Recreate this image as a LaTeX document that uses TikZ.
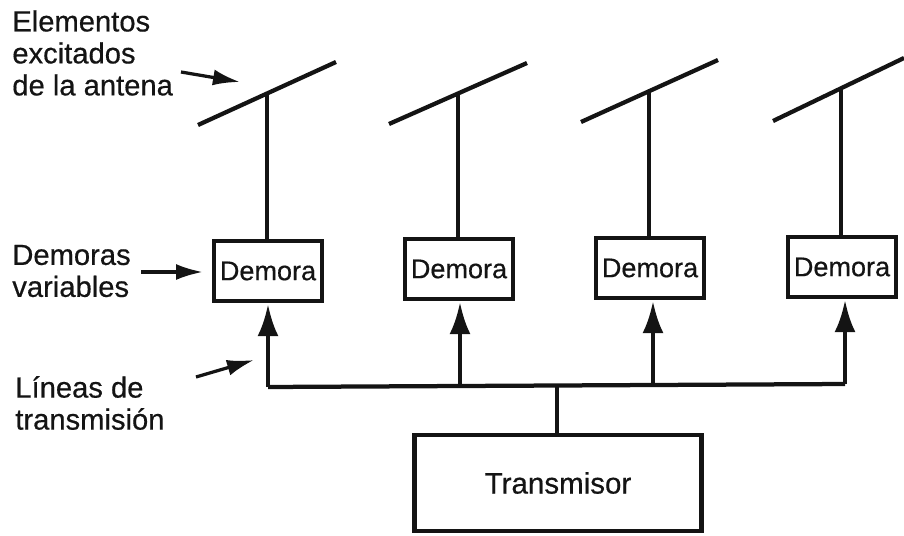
\documentclass[tikz,border=0pt]{standalone}
\usepackage{fontspec}
\usepackage{xcolor}
\usepackage{tikz}
\setmainfont[FakeBold=0.5]{Liberation Sans}
\definecolor{inkblack}{rgb}{0.08, 0.08, 0.08}
\usetikzlibrary{arrows.meta}
\tikzset{
	wire/.style = {draw=inkblack, line width = 0.085cm},
	feed/.style = {wire, -{Latex[length=0.64cm, width=0.42cm]}, shorten >= 0.02cm},
	pointer/.style = {draw=inkblack, line width = 0.065cm, -{Latex[length=0.54cm, width=0.32cm]}},
	delaybox/.style = {draw=inkblack, line width = 0.085cm, minimum width = 2.16cm, minimum height = 1.2cm, inner sep = 0pt, text=inkblack, font = \fontsize{15.4}{18}\selectfont},
	caption/.style = {anchor = west, align = left, inner sep = 0pt, text=inkblack, font = \fontsize{16.6}{18.2}\selectfont}
}

\begin{document}
\begin{tikzpicture}
			\useasboundingbox (0,0) rectangle (18.08,10.7);
			
			\node[delaybox, xshift = 5.36cm, yshift = 5.28cm] (d1){Demora};
			\node[delaybox, xshift = 9.18cm, yshift = 5.32cm] (d2){Demora};
			\node[delaybox, xshift = 13cm, yshift = 5.34cm] (d3){Demora};
			\node[delaybox, xshift = 16.84cm, yshift = 5.36cm] (d4){Demora};
			\node[delaybox, xshift = 11.16cm, yshift = 1.04cm, minimum width = 5.74cm, minimum height = 1.92cm, font = \fontsize{16.8}{18}\selectfont] (tx){Transmisor};
			
			\node[caption, xshift = 0.24cm, yshift = 9.64cm] (cElem){Elementos\\excitados\\de la antena};
			\node[caption, xshift = 0.24cm, yshift = 5.28cm] (cDem){Demoras\\variables};
			\node[caption, xshift = 0.3cm, yshift = 2.64cm] (cLin){Líneas de\\transmisión};
			
			\coordinate (a1l) at (3.96,8.2);
			\coordinate (a1r) at (6.72,9.46);
			\coordinate (a1m) at (5.34,8.84);
			\coordinate (a2l) at (7.78,8.22);
			\coordinate (a2r) at (10.54,9.44);
			\coordinate (a2m) at (9.16,8.84);
			\coordinate (a3l) at (11.62,8.26);
			\coordinate (a3r) at (14.36,9.5);
			\coordinate (a3m) at (12.98,8.88);
			\coordinate (a4l) at (15.46,8.28);
			\coordinate (a4r) at (18.08,9.54);
			\coordinate (a4m) at (16.82,8.92);
			
			\coordinate (j1) at (5.36,2.96);
			\coordinate (j2) at (9.2,2.98);
			\coordinate (j3) at (13.06,3);
			\coordinate (j4) at (16.9,3.02);
			\coordinate (jt) at (11.14,2.99);
			
			\coordinate (p1s) at (3.62,9.26);
			\coordinate (p1e) at (4.8,9.06);
			\coordinate (p2s) at (2.82,5.26);
			\coordinate (p2e) at (4.06,5.26);
			\coordinate (p3s) at (3.92,3.16);
			\coordinate (p3e) at (5.08,3.5);
			
			\draw[wire] (a1l) -- (a1r);
			\draw[wire] (a2l) -- (a2r);
			\draw[wire] (a3l) -- (a3r);
			\draw[wire] (a4l) -- (a4r);
			
			\draw[wire] (a1m) -- (a1m |- d1.north);
			\draw[wire] (a2m) -- (a2m |- d2.north);
			\draw[wire] (a3m) -- (a3m |- d3.north);
			\draw[wire] (a4m) -- (a4m |- d4.north);
			
			\draw[wire, line join = round] (j1) -- (j2) -- (jt) -- (j3) -- (j4);
			\draw[wire] (jt) -- (jt |- tx.north);
			
			\draw[feed] (j1) -- (j1 |- d1.south);
			\draw[feed] (j2) -- (j2 |- d2.south);
			\draw[feed] (j3) -- (j3 |- d3.south);
			\draw[feed] (j4) -- (j4 |- d4.south);
			
			\draw[pointer] (p1s) -- (p1e);
			\draw[pointer] (p2s) -- (p2e);
			\draw[pointer] (p3s) -- (p3e);
			
			\end{tikzpicture}
\end{document}
